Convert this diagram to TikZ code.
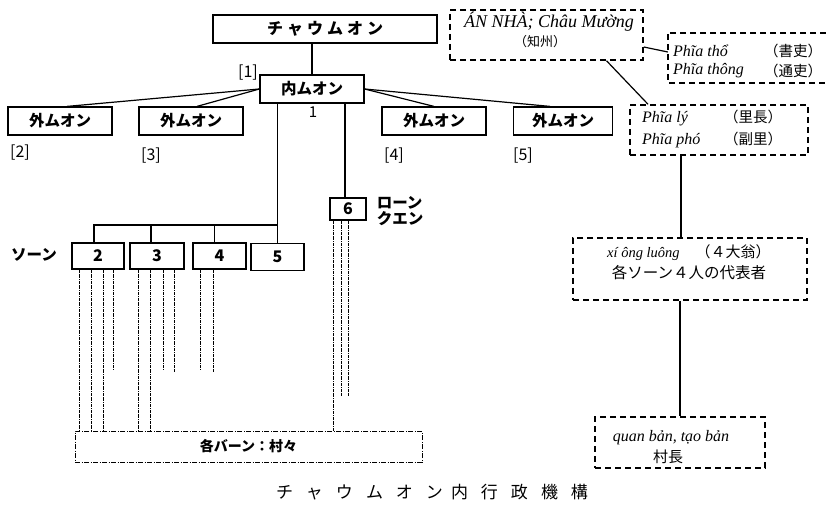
\documentclass[tikz,border=0pt]{standalone}
\usepackage{fontspec}
\setmainfont{Liberation Serif}
\newfontfamily\jp{Noto Sans CJK JP}
\usetikzlibrary{calc}
\newcommand{\capch}[1]{\makebox[30pt]{#1}}
\begin{document}
\begin{tikzpicture}[x=1pt,y=-1pt,
  sbox/.style={draw, line width=1.2pt, inner sep=0pt, font=\jp\bfseries\fontsize{15.5}{17}\selectfont},
  nbox/.style={draw, line width=1.2pt, inner sep=0pt, font=\jp\bfseries\fontsize{16}{17}\selectfont},
  dbox/.style={draw, dash pattern=on 6pt off 4pt, line width=1.5pt, inner sep=0pt},
  vline/.style={line width=0.6pt, dash pattern=on 3pt off 1pt on 0.6pt off 1pt},
  conn/.style={line width=1.2pt},
  lbl/.style={inner sep=0pt, font=\jp\fontsize{16}{18}\selectfont},
  jlbl/.style={inner sep=0pt, font=\jp\bfseries\fontsize{15.5}{18}\selectfont},
  vi/.style={font=\itshape\fontsize{16}{18}\selectfont},
  jp/.style={font=\jp\fontsize{14.5}{16}\selectfont}]
\useasboundingbox (0,0) rectangle (826,510);

% main boxes
\node[sbox, font=\jp\bfseries\fontsize{16}{18}\selectfont, minimum width=224pt, minimum height=28pt] (top) at (325,29) {チ\hspace{4pt}ャ\hspace{4pt}ウ\hspace{4pt}ム\hspace{4pt}オ\hspace{4pt}ン};
\node[sbox, minimum width=104pt, minimum height=28pt] (inner) at (312,89) {内ムオン};
\node[sbox, minimum width=104pt, minimum height=28pt] (o2) at (60,121) {外ムオン};
\node[sbox, minimum width=104pt, minimum height=28pt] (o3) at (191,121) {外ムオン};
\node[sbox, minimum width=104pt, minimum height=28pt] (o4) at (434,121) {外ムオン};
\node[sbox, minimum width=99pt, minimum height=28pt] (o5) at (563,121) {外ムオン};

\node[lbl] (l1) at (248,73) {[1]};
\node[lbl, font=\jp\fontsize{15}{17}\selectfont] (n1) at (313,112) {1};
\node[lbl] (l2) at (20,153) {[2]};
\node[lbl] (l3) at (151,156) {[3]};
\node[lbl] (l4) at (394,156) {[4]};
\node[lbl] (l5) at (523,156) {[5]};

% soon boxes
\node[nbox, minimum width=52pt, minimum height=26pt] (s2) at (98,256) {2};
\node[nbox, minimum width=54pt, minimum height=26pt] (s3) at (157,256) {3};
\node[nbox, minimum width=53pt, minimum height=26pt] (s4) at (219.5,256) {4};
\node[nbox, line width=1.5pt, minimum width=53pt, minimum height=27pt] (s5) at (277.5,257) {5};
\node[nbox, minimum width=36pt, minimum height=22pt] (b6) at (348,209) {6};
\node[jlbl] (soon) at (34,255) {ソーン};
\node[jlbl, align=left] (loon) at (400,211) {ローン\\[-2pt]クエン};

\node[draw, line width=0.7pt, dash pattern=on 5pt off 1.5pt on 1pt off 1.5pt, minimum width=347pt, minimum height=31pt, inner sep=0pt,
      font=\jp\bfseries\fontsize{14}{16}\selectfont] (bot) at (248.5,446.5) {各バーン：村々};

% connectors (left)
\draw[conn] (inner.north |- top.south) -- (inner.north);
\draw[conn] (inner.west) -- ([xshift=7pt]o2.north);
\draw[conn] (inner.west) -- ([xshift=6pt]o3.north);
\draw[conn] (inner.east) -- (o4.north);
\draw[conn] (inner.east) -- ([xshift=-13pt]o5.north);
\coordinate (j) at (277.5,225);
\draw[conn] (inner.south -| s5.north) -- (s5.north);
\draw[conn] (j) -| ([xshift=-4pt]s2.north);
\draw[conn] ([xshift=-6pt]s3.north |- j) -- ([xshift=-6pt]s3.north);
\draw[conn] ([xshift=-5pt]s4.north |- j) -- ([xshift=-5pt]s4.north);
\draw[conn] ([xshift=-3pt]b6.north |- inner.south) -- ([xshift=-3pt]b6.north);

% village lines
\foreach \dx in {-19,-7,5} \draw[vline] ([xshift=\dx pt]s2.south) -- ([xshift=\dx pt]s2.south |- bot.north);
\coordinate (e2) at (113,370);
\draw[vline] (s2.south -| e2) -- (e2);
\foreach \dx in {-19,-7} \draw[vline] ([xshift=\dx pt]s3.south) -- ([xshift=\dx pt]s3.south |- bot.north);
\coordinate (e3a) at (163,370);
\coordinate (e3b) at (174,372);
\draw[vline] (s3.south -| e3a) -- (e3a);
\draw[vline] (s3.south -| e3b) -- (e3b);
\coordinate (e4a) at (200,370);
\coordinate (e4b) at (213,372);
\draw[vline] (s4.south -| e4a) -- (e4a);
\draw[vline] (s4.south -| e4b) -- (e4b);
\draw[vline] ([xshift=-15pt]b6.south) -- ([xshift=-15pt]b6.south |- bot.north);
\coordinate (e6a) at (341,396);
\coordinate (e6b) at (348,396);
\draw[vline] (b6.south -| e6a) -- (e6a);
\draw[vline] (b6.south -| e6b) -- (e6b);

% right side
\node[dbox, minimum width=193pt, minimum height=50pt] (an) at (546.5,35) {};
\node[inner sep=0pt, font=\itshape\fontsize{18}{20}\selectfont] (an1) at (549,22) {ÁN NHÀ; Châu Mường};
\node[inner sep=0pt, font=\jp\fontsize{13}{15}\selectfont] (an2) at (540,42) {（知州）};
\node[inner sep=0pt, minimum width=158pt, minimum height=50pt] (pt) at (747,58) {};
\draw[dbox] (pt.north east) -- (pt.north west) -- (pt.south west) -- (pt.south east);
\node[vi, anchor=west, inner sep=0pt] (pt1) at (673,51) {Phĩa thổ};
\node[vi, anchor=west, inner sep=0pt] (pt2) at (673,71) {Phĩa thông};
\node[jp, anchor=west, inner sep=0pt] (pt3) at (764,51) {（書吏）};
\node[jp, anchor=west, inner sep=0pt] (pt4) at (764,71) {（通吏）};

\node[dbox, minimum width=178pt, minimum height=50pt] (pl) at (719,130) {};
\node[vi, anchor=west, inner sep=0pt] (pl1) at (642,119) {Phĩa lý};
\node[vi, anchor=west, inner sep=0pt] (pl2) at (642,141) {Phĩa phó};
\node[jp, anchor=west, inner sep=0pt] (pl3) at (724,117) {（里長）};
\node[jp, anchor=west, inner sep=0pt] (pl4) at (724,139) {（副里）};

\node[dbox, minimum width=234pt, minimum height=62pt] (xi) at (690,269) {};
\node[inner sep=0pt, anchor=west] (xi1) at (607,253)
  {{\itshape\fontsize{14.5}{17}\selectfont xí ông luông}\hspace{16pt}{\jp\fontsize{15}{17}\selectfont （４大翁）}};
\node[inner sep=0pt, font=\jp\fontsize{15.5}{17}\selectfont] (xi2) at (689,273) {各ソーン４人の代表者};
\node[dbox, minimum width=170pt, minimum height=51pt] (qb) at (680,442.5) {};
\node[inner sep=0pt, font=\itshape\fontsize{16}{18}\selectfont] (qb1) at (671,438) {quan bản, tạo bản};
\node[inner sep=0pt, font=\jp\fontsize{15}{17}\selectfont] (qb2) at (668,457) {村長};

\draw[conn] ([yshift=-12pt]an.east) -- ([yshift=6pt]pt.west);
\draw[conn] ([xshift=60pt]an.south) -- ([xshift=-71pt]pl.north);
\draw[conn] ([xshift=-9pt]xi.north |- pl.south) -- ([xshift=-9pt]xi.north);
\draw[conn] (qb.north |- xi.south) -- (qb.north);

% caption
\node[inner sep=0pt, font=\jp\fontsize{17}{19}\selectfont] (cap) at (432,492)
  {\capch{チ}\capch{ャ}\capch{ウ}\capch{ム}\capch{オ}\capch{ン}\hspace{-5pt}\capch{内}\capch{行}\capch{政}\capch{機}\capch{構}};
\end{tikzpicture}
\end{document}
